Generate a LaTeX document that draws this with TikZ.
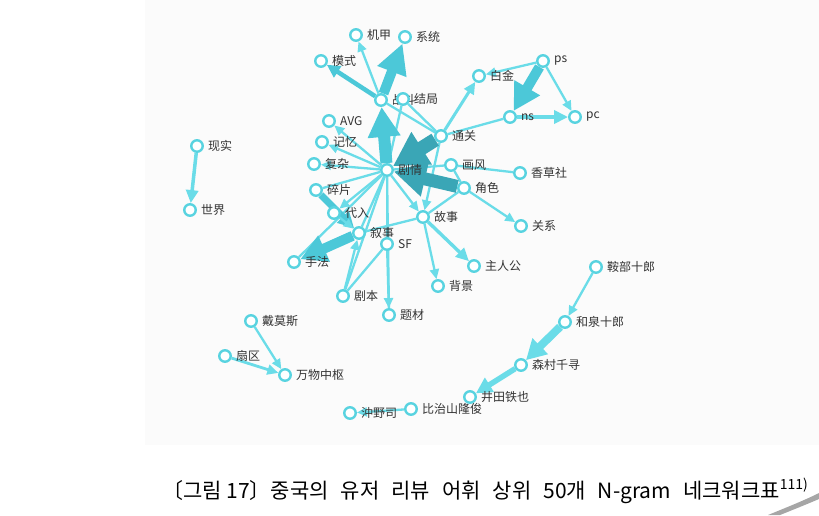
\documentclass[tikz,border=0pt]{standalone}
\usepackage{fontspec}
\newfontfamily\cjk{Noto Sans CJK SC}
\newfontfamily\kr{Noto Sans CJK KR}
\usetikzlibrary{arrows.meta}
\pgfdeclarelayer{bg}
\pgfsetlayers{bg,main}
\definecolor{nodeC}{HTML}{58D3E0}
\definecolor{edgeC}{HTML}{6ADCE8}
\definecolor{midC}{HTML}{4CC8D8}
\definecolor{darkC}{HTML}{3AA6B6}
\definecolor{txtC}{HTML}{333333}
\tikzset{
  nd/.style={circle,draw=nodeC,line width=2.4pt,fill=white,minimum size=11.5pt,inner sep=0pt},
  lb/.style={font=\cjk\fontsize{12}{12}\selectfont,text=txtC,label distance=3pt,inner sep=1pt},
  ln/.style={draw=edgeC,line width=2.3pt},
  ea/.style={draw=edgeC,line width=2.3pt,-{Triangle[length=10pt,width=9pt]}},
  ew/.style n args={4}{draw=#1,line width=#2,-{Triangle[length=#3,width=#4]}}
}
\begin{document}
\begin{tikzpicture}[x=1pt,y=-1pt]
\useasboundingbox (0,0) rectangle (819,515);
% nodes
\node[nd,label={[lb]right:机甲}] (jijia) at (356,35) {};
\node[nd,label={[lb]right:系统}] (xitong) at (405,37) {};
\node[nd,label={[lb]right:模式}] (moshi) at (321,61) {};
\node[nd,label={[lb]right:战斗}] (zhandou) at (381,100) {};
\node[nd,label={[lb]right:结局}] (jieju) at (403,99) {};
\node[nd,label={[lb]right:AVG}] (avg) at (329,121) {};
\node[nd,label={[lb]right:记忆}] (jiyi) at (322,142) {};
\node[nd,label={[lb]right:复杂}] (fuza) at (314,164) {};
\node[nd,label={[lb]right:剧情}] (juqing) at (387,170) {};
\node[nd,label={[lb]right:碎片}] (suipian) at (316,190) {};
\node[nd,label={[lb]right:代入}] (dairu) at (334,213) {};
\node[nd,label={[lb]right:叙事}] (xushi) at (359,233) {};
\node[nd,label={[lb]right:SF}] (sf) at (387,244) {};
\node[nd,label={[lb]right:手法}] (shoufa) at (294,262) {};
\node[nd,label={[lb]right:剧本}] (juben) at (343,296) {};
\node[nd,label={[lb]right:题材}] (ticai) at (389,315) {};
\node[nd,label={[lb]right:故事}] (gushi) at (423,217) {};
\node[nd,label={[lb]right:背景}] (beijing) at (438,286) {};
\node[nd,label={[lb]right:主人公}] (zhurengong) at (474,266) {};
\node[nd,label={[lb]right:关系}] (guanxi) at (521,226) {};
\node[nd,label={[lb]right:角色}] (juese) at (464,188) {};
\node[nd,label={[lb]right:画风}] (huafeng) at (451,165) {};
\node[nd,label={[lb]right:香草社}] (xiangcao) at (520,173) {};
\node[nd,label={[lb]right:通关}] (tongguan) at (441,136) {};
\node[nd,label={[lb]right:白金}] (baijin) at (479,76) {};
\node[nd,label={[lb]right:ps}] (ps) at (543,61) {};
\node[nd,label={[lb]right:ns}] (ns) at (510,117) {};
\node[nd,label={[lb]right:pc}] (pc) at (575,117) {};
\node[nd,label={[lb]right:现实}] (xianshi) at (197,146) {};
\node[nd,label={[lb]right:世界}] (shijie) at (190,210) {};
\node[nd,label={[lb]right:戴莫斯}] (daimosi) at (251,321) {};
\node[nd,label={[lb]right:扇区}] (shanqu) at (225,356) {};
\node[nd,label={[lb]right:万物中枢}] (wanwu) at (285,375) {};
\node[nd,label={[lb]right:鞍部十郎}] (anbu) at (596,267) {};
\node[nd,label={[lb]right:和泉十郎}] (hequan) at (565,322) {};
\node[nd,label={[lb]right:森村千寻}] (senchun) at (521,365) {};
\node[nd,label={[lb]right:井田铁也}] (jingtian) at (470,397) {};
\node[nd,label={[lb]right:比治山隆俊}] (bizhi) at (411,409) {};
\node[nd,label={[lb]right:沖野司}] (chongye) at (350,413) {};
% edges
\begin{pgfonlayer}{bg}
\fill[black!1.5] (145,0) rectangle (819,445);
\draw[ln] (juqing) -- (jieju);
\draw[ln] (zhandou) -- (tongguan);
\draw[ln] (jieju) -- (tongguan);
\draw[ea] (zhandou) -- (jijia);
\draw[ea] (juqing) -- (avg);
\draw[ea] (juqing) -- (jiyi);
\draw[ea] (juqing) -- (fuza);
\draw[ln] (juqing) -- (suipian);
\draw[ea] (juqing) -- (dairu);
\draw[ln] (juqing) -- (xushi);
\draw[ln] (juqing) -- (shoufa);
\draw[ln] (juqing) -- (juben);
\draw[ln] (juqing) -- (sf);
\draw[ln] (juqing) -- (ticai);
\draw[ln] (juqing) -- (huafeng);
\draw[ea] (juqing) -- (gushi);
\draw[ea] (tongguan) -- (gushi);
\draw[ln] (huafeng) -- (xiangcao);
\draw[ln] (huafeng) -- (juese);
\draw[ea] (juese) -- (guanxi);
\draw[ln] (juese) -- (gushi);
\draw[ln] (xushi) -- (gushi);
\draw[ew={edgeC}{3.4pt}{13pt}{12pt}] (gushi) -- (zhurengong);
\draw[ea] (gushi) -- (beijing);
\draw[ea] (sf) -- (ticai);
\draw[ln] (sf) -- (juben);
\draw[ea] (juben) -- (xushi);
\draw[ew={edgeC}{3pt}{12pt}{11pt}] (tongguan) -- (baijin);
\draw[ln] (tongguan) -- (ns);
\draw[ea] (ps) -- (baijin);
\draw[ea] (ps) -- (pc);
\draw[ew={edgeC}{4.5pt}{14pt}{13pt}] (ns) -- (pc);
\draw[ew={midC}{10pt}{27pt}{28pt}] (ps) -- (ns);
\draw[ew={midC}{4.5pt}{13pt}{13pt}] (zhandou) -- (moshi);
\draw[ew={midC}{12pt}{30pt}{31pt}] (juqing) -- (zhandou);
\draw[ew={midC}{10pt}{30pt}{29pt}] (zhandou) -- (xitong);
\draw[ew={darkC}{14pt}{34pt}{36pt}] (tongguan) -- (juqing);
\draw[ew={darkC}{13pt}{32pt}{34pt}] (juese) -- (juqing);
\draw[ew={midC}{7pt}{16pt}{16pt}] (suipian) -- (xushi);
\draw[ea] (dairu) -- (xushi);
\draw[ew={midC}{10pt}{26pt}{27pt}] (xushi) -- (shoufa);
\draw[ew={edgeC}{3.5pt}{13pt}{12pt}] (xianshi) -- (shijie);
\draw[ea] (daimosi) -- (wanwu);
\draw[ew={edgeC}{2.8pt}{11pt}{10pt}] (shanqu) -- (wanwu);
\draw[ea] (anbu) -- (hequan);
\draw[ew={edgeC}{8pt}{20pt}{21pt}] (hequan) -- (senchun);
\draw[ew={edgeC}{5.5pt}{16pt}{16pt}] (senchun) -- (jingtian);
\draw[ea] (bizhi) -- (chongye);
\end{pgfonlayer}
% caption
\node[font=\kr\fontsize{21}{22}\selectfont,text=black,inner sep=0pt] (cap) at (485,491)
  {〔그림 17〕중국의\hspace{12pt}유저\hspace{12pt}리뷰\hspace{12pt}어휘\hspace{12pt}상위\hspace{12pt}50개\hspace{12pt}N-gram\hspace{12pt}네크워크표\raisebox{0.4em}{\fontsize{14}{14}\selectfont 111)}};
% page curl
\fill[gray!70] (768,515) .. controls (790,506) and (805,500) .. (819,493) -- (819,499) .. controls (805,505) and (790,511) .. (780,515) -- cycle;
\end{tikzpicture}
\end{document}
